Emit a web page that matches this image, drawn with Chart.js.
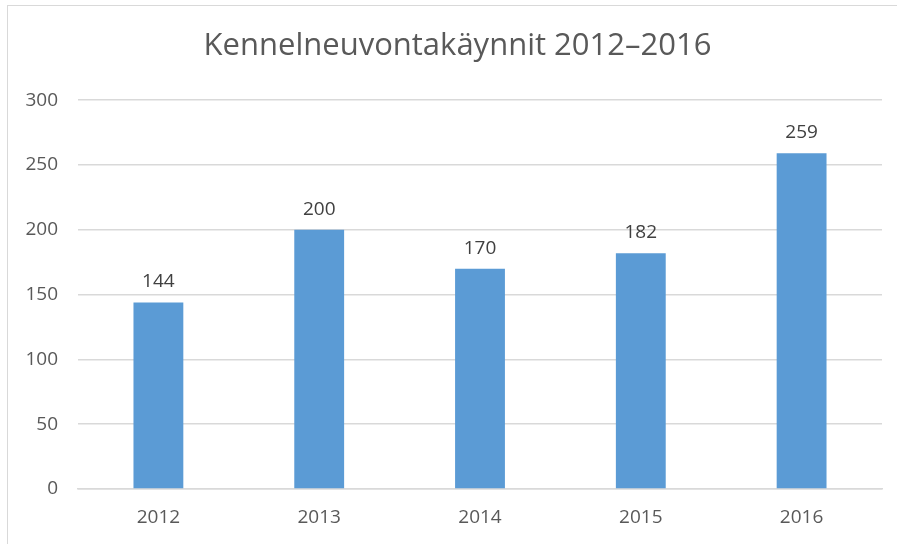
<!DOCTYPE html>
<html>
<head>
<meta charset="utf-8">
<script src="https://cdn.jsdelivr.net/npm/chart.js@4"></script>
<style>
  body { margin: 0; background: #fff; }
  #wrap { position: relative; width: 897px; height: 544px; overflow: hidden; }
  #frame {
    position: absolute; left: 7px; top: 5px; width: 920px; height: 600px;
    border-left: 1.5px solid #d9d9d9; border-top: 1.5px solid #d9d9d9;
  }
  canvas { position: absolute; left: 0; top: 0; }
</style>
</head>
<body>
<div id="wrap">
  <div id="frame"></div>
  <canvas id="visitsChart" width="897" height="544"></canvas>
</div>
<script>
// Kennel advisory visits per year
const years = ['2012', '2013', '2014', '2015', '2016'];
const visits = [144, 200, 170, 182, 259];
const yTicks = [0, 50, 100, 150, 200, 250, 300];

const FONT = "'Open Sans', 'DejaVu Sans', sans-serif";
const barColor = '#5b9bd5';
const textColor = '#595959';
const gridColor = '#d9d9d9';

// Value labels above each bar
const valueLabels = {
  id: 'valueLabels',
  afterLayout(chart) {
    // title sits a bit right of the canvas centre in the original
    if (chart.titleBlock) chart.titleBlock.left += 33;
  },
  afterDatasetsDraw(chart) {
    const ctx = chart.ctx;
    const meta = chart.getDatasetMeta(0);
    ctx.save();
    ctx.font = '19px ' + FONT;
    ctx.fillStyle = '#404040';
    ctx.textAlign = 'center';
    ctx.textBaseline = 'alphabetic';
    meta.data.forEach((bar, i) => {
      ctx.fillText(String(visits[i]), bar.x, bar.y - 15);
    });
    ctx.restore();
  }
};

const ctx = document.getElementById('visitsChart').getContext('2d');
new Chart(ctx, {
  type: 'bar',
  data: {
    labels: years,
    datasets: [{
      data: visits,
      backgroundColor: barColor,
      borderWidth: 0,
      barPercentage: 0.31,
      categoryPercentage: 1
    }]
  },
  options: {
    responsive: false,
    animation: false,
    layout: { padding: { left: 0, right: 15, top: 0, bottom: 17 } },
    plugins: {
      legend: { display: false },
      tooltip: { enabled: false },
      title: {
        display: true,
        text: 'Kennelneuvontakäynnit 2012–2016',
        color: textColor,
        font: { family: FONT, size: 31, weight: 'normal' },
        padding: { top: 28, bottom: 35 }
      }
    },
    scales: {
      x: {
        afterFit(scale) { scale.height = 38; },
        grid: { display: false, drawTicks: false },
        border: { display: true, color: gridColor, width: 1.5 },
        ticks: { color: textColor, font: { family: FONT, size: 19 }, padding: 17 }
      },
      y: {
        min: 0,
        max: 300,
        afterFit(scale) { scale.width = 78; },
        afterBuildTicks(scale) { scale.ticks = yTicks.map(v => ({ value: v })); },
        grid: { color: gridColor, lineWidth: 1.5, drawTicks: false },
        border: { display: false },
        ticks: { color: textColor, font: { family: FONT, size: 19 }, padding: 20 }
      }
    }
  },
  plugins: [valueLabels]
});
</script>
</body>
</html>
